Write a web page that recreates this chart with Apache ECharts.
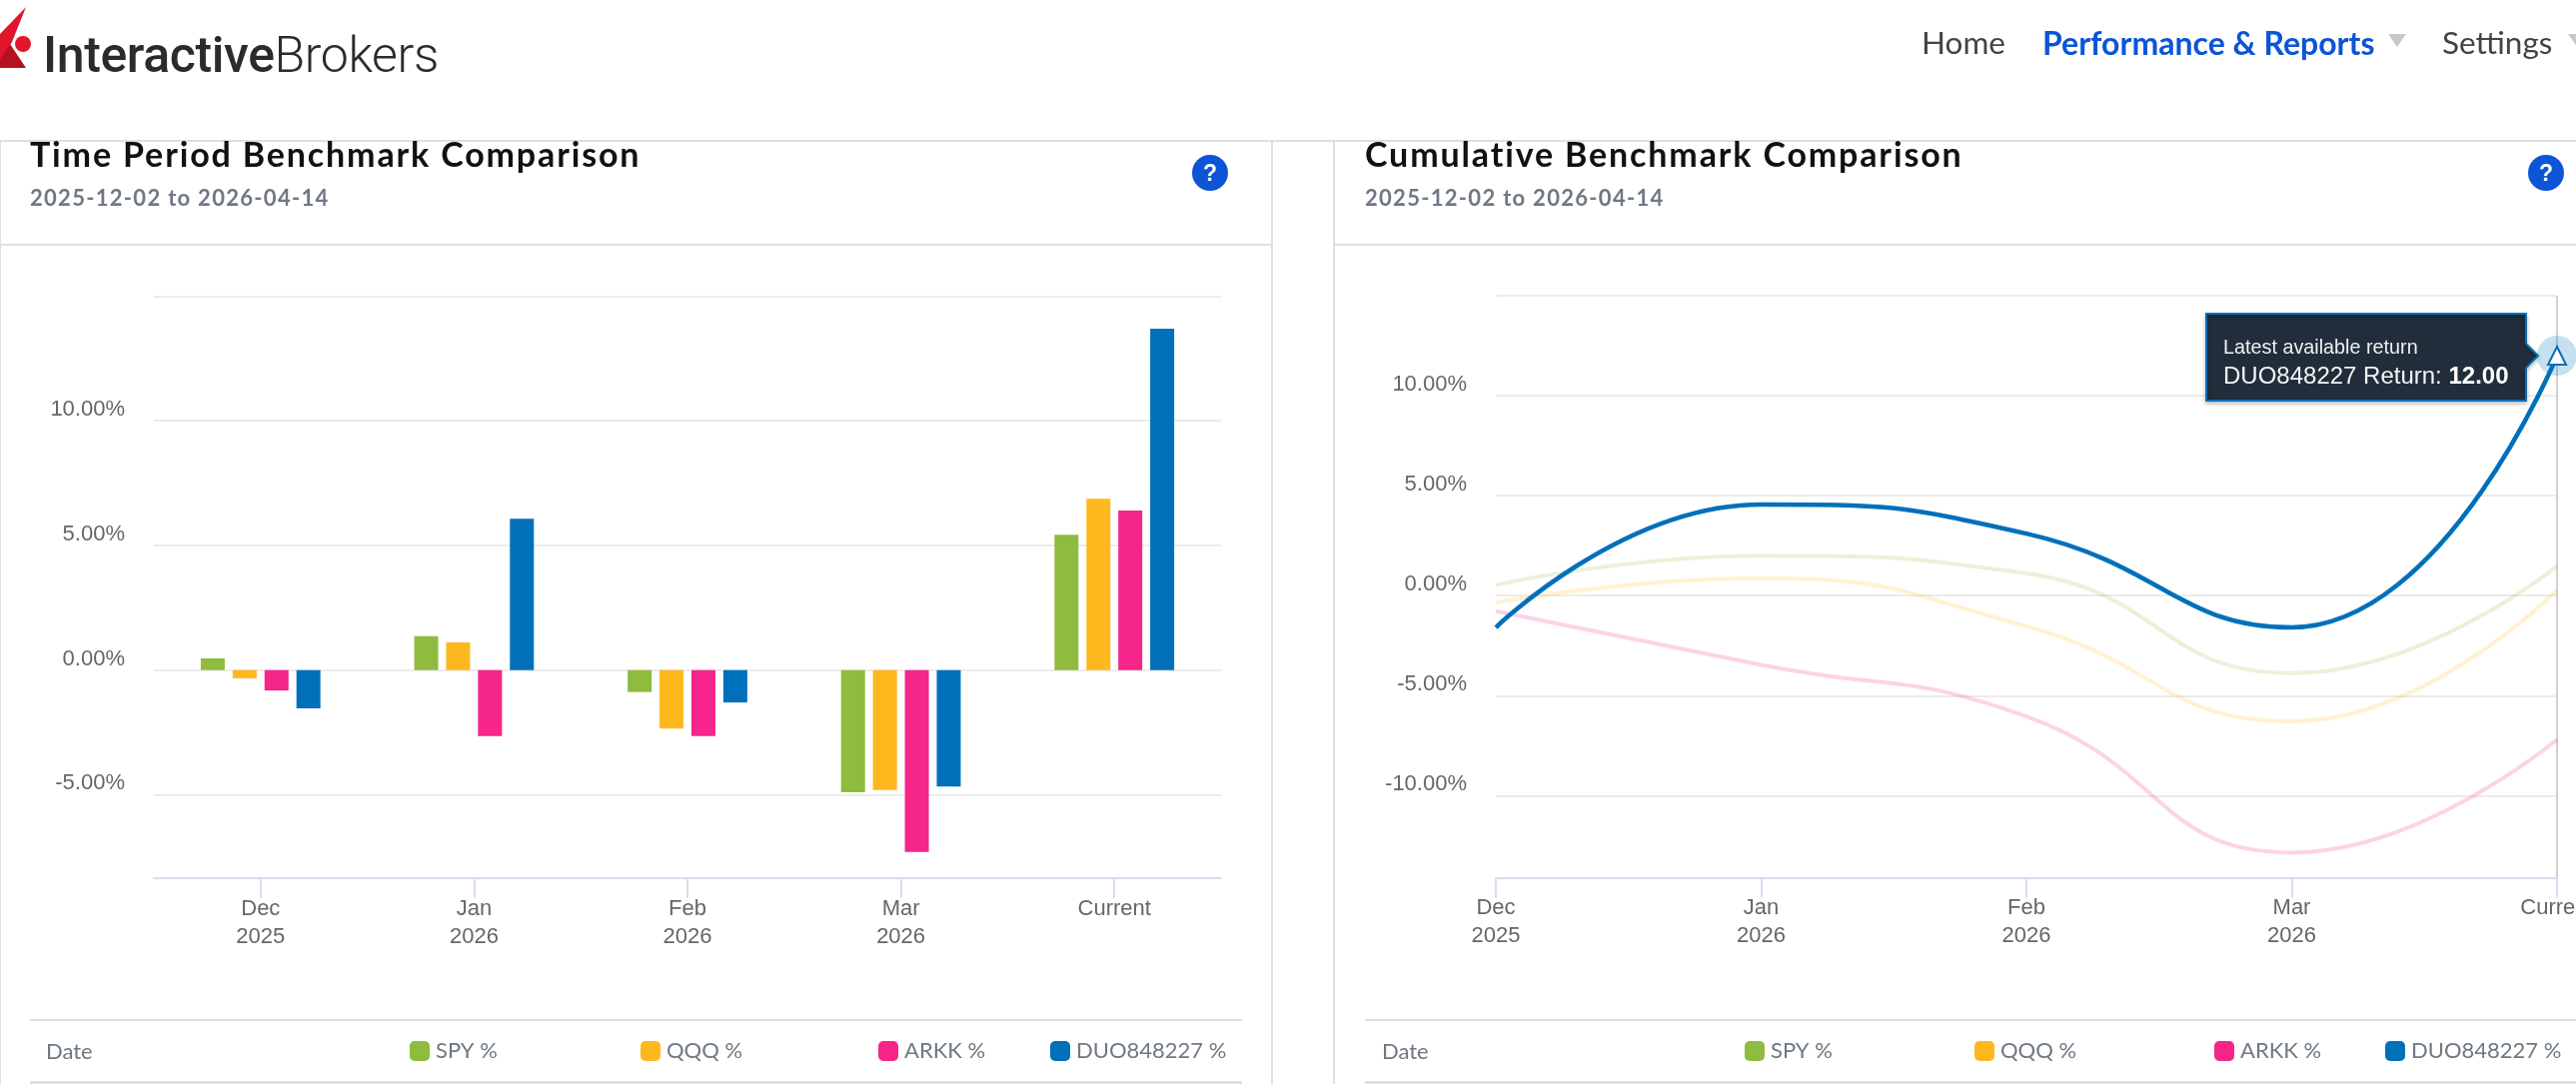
<!DOCTYPE html>
<html><head><meta charset="utf-8">
<script src="https://cdn.jsdelivr.net/npm/echarts@6/dist/echarts.min.js"></script>
<style>
html,body{margin:0;padding:0;background:#fff;overflow:hidden;width:2578px;height:1085px}
#c{position:absolute;left:0;top:0;width:2578px;height:1085px}
.t{position:absolute;white-space:nowrap;line-height:1}
.r{position:absolute;background:#dfdfdf}
.title{font:700 34px Lato;color:#111;letter-spacing:1.85px}
.sub{font:700 22px Lato;color:#6f7883;letter-spacing:1.3px}
.nav{font:400 31.5px Lato;color:#444}
.date{font:400 22px Lato;color:#6f7883}
.q{position:absolute;width:36px;height:36px;border-radius:50%;background:#0b55d6;color:#fff;font:700 23px/36px "Liberation Sans";text-align:center}
.tri{position:absolute;width:0;height:0;border-left:9px solid transparent;border-right:9px solid transparent;border-top:13px solid #c8c8c8}
</style></head><body>
<div id="c"></div>
<svg style="position:absolute;left:0;top:0" width="40" height="72">
<polygon points="26,7 0,34 0,62 12,42" fill="#e2152d"/><polygon points="0,68 26,68 10,44 0,60" fill="#b5121f"/><circle cx="23" cy="44" r="8" fill="#e2152d"/></svg>
<div class="t" style="left:43px;top:26px;font:500 50px Roboto;color:#2b2b2b;letter-spacing:-.4px">Interactive<span style="font-weight:300">Brokers</span></div>
<div class="t nav" style="left:1923px;top:23px">Home</div>
<div class="t nav" style="left:2044px;top:23px;color:#0b55d6;font-weight:700;font-size:32px">Performance &amp; Reports</div>
<div class="tri" style="left:2390px;top:34px"></div>
<div class="t nav" style="left:2444px;top:23px">Settings</div>
<div class="tri" style="left:2570px;top:34px"></div>
<div class="r" style="left:0;top:140px;width:2578px;height:2px"></div>
<div class="r" style="left:0;top:244px;width:1273px;height:2px"></div>
<div class="r" style="left:1334px;top:244px;width:1244px;height:2px"></div>
<div class="r" style="left:1272px;top:140px;width:2px;height:945px"></div>
<div class="r" style="left:1334px;top:140px;width:2px;height:945px"></div>
<div class="r" style="left:0;top:140px;width:1px;height:945px"></div>
<div class="r" style="left:30px;top:1020px;width:1213px;height:2px"></div>
<div class="r" style="left:30px;top:1082px;width:1213px;height:3px"></div>
<div class="r" style="left:1366px;top:1020px;width:1212px;height:2px"></div>
<div class="r" style="left:1366px;top:1082px;width:1212px;height:3px"></div>
<div class="t title" style="left:30px;top:133px">Time Period Benchmark Comparison</div>
<div class="t sub" style="left:30px;top:184px">2025-12-02 to 2026-04-14</div>
<div class="q" style="left:1193px;top:155px">?</div>
<div class="t title" style="left:1366px;top:133px">Cumulative Benchmark Comparison</div>
<div class="t sub" style="left:1366px;top:184px">2025-12-02 to 2026-04-14</div>
<div class="q" style="left:2530px;top:155px">?</div>
<div class="t date" style="left:46px;top:1038px">Date</div>
<div class="t date" style="left:1383px;top:1038px">Date</div>
<script>
var categories = ['Dec\n2025','Jan\n2026','Feb\n2026','Mar\n2026','Current'];
var seriesNames = ['SPY %','QQQ %','ARKK %','DUO848227 %'];
var colors = ['#8fbc3f','#fdb81e','#f5258a','#0070bb'];
var periodSPY  = [0.47, 1.36, -0.88, -4.90, 5.43];
var periodQQQ  = [-0.33, 1.11, -2.35, -4.81, 6.87];
var periodARKK = [-0.82, -2.65, -2.65, -7.30, 6.40];
var periodDUO  = [-1.54, 6.07, -1.30, -4.67, 13.70];
var cumSPY  = [0.53, 2.00, 1.12, -3.88, 1.48];
var cumQQQ  = [-0.36, 0.87, -1.53, -6.28, 0.28];
var cumARKK = [-0.78, -3.46, -6.04, -12.85, -7.20];
var cumDUO  = [-1.59, 4.56, 3.10, -1.59, 12.00];
var yTicks1 = [-5,0,5,10,15];
var yLabels1 = [-5,0,5,10];
var yTicks2 = [-10,-5,0,5,10,15];
var yLabels2 = [-10,-5,0,5,10];
var tipTitle = 'Latest available return';
var tipLabel = 'DUO848227 Return: ';

var labelFont = '"Liberation Sans"';
function xAxis(g, gap){
  return {type:'category',gridIndex:g,data:categories,boundaryGap:gap,
    axisLine:{onZero:false,lineStyle:{color:'#d5deef',width:2}},
    axisTick:{show:true,alignWithLabel:true,length:20,lineStyle:{color:'#d5deef',width:2}},
    axisLabel:{color:'#666',fontFamily:labelFont,fontSize:22,lineHeight:28,margin:17,interval:0,hideOverlap:false},
    splitLine:{show:false}};
}
function yAxis(g,min,max,ticks,labels){
  return {type:'value',gridIndex:g,min:min,max:max,
    axisLine:{show:false},
    axisTick:{show:false,customValues:ticks},
    axisLabel:{customValues:labels,color:'#666',fontFamily:labelFont,fontSize:22,margin:29,verticalAlign:'bottom',
      formatter:function(v){return v.toFixed(2)+'%';}},
    splitLine:{show:true,lineStyle:{color:'#ececec',width:2}}};
}
var period=[periodSPY,periodQQQ,periodARKK,periodDUO];
var cum=[cumSPY,cumQQQ,cumARKK,cumDUO];
var series=[];
seriesNames.forEach(function(n,i){
  series.push({type:'bar',name:n,xAxisIndex:0,yAxisIndex:0,data:period[i],barWidth:24,barGap:'33%',
    itemStyle:{color:colors[i]},silent:true});
});
seriesNames.forEach(function(n,i){
  var isDuo=i===3;
  var s={type:'line',name:n,xAxisIndex:1,yAxisIndex:1,smooth:0.5,silent:true,z:isDuo?4:2,
    lineStyle:{color:colors[i],width:isDuo?4.5:4,opacity:isDuo?1:0.2},
    symbol:'none',showSymbol:isDuo,showAllSymbol:isDuo,
    data:cum[i],clip:false};
  if(isDuo){
    s.data=cum[i].map(function(v,k){
      return k===cum[i].length-1
        ?{value:v,symbol:'triangle',symbolSize:18,itemStyle:{color:'#fff',borderColor:colors[i],borderWidth:2}}
        :{value:v,symbol:'none'};
    });
    s.markLine={silent:true,symbol:'none',label:{show:false},animation:false,z:1,
      lineStyle:{color:'#cfcfcf',width:2,type:'solid'},data:[{xAxis:categories[4]}]};
    s.markPoint={silent:true,animation:false,z:1,symbol:'circle',symbolSize:40,label:{show:false},
      itemStyle:{color:'rgba(0,112,187,0.22)'},
      data:[{coord:[categories[4],cumDUO[4]]}]};
  }
  series.push(s);
});
function lg(name,x){
  return {data:[name],left:x,top:1041,itemWidth:20,itemHeight:20,icon:'roundRect',selectedMode:false,
    itemGap:0,padding:0,itemStyle:{borderWidth:0},
    textStyle:{color:'#6f7883',fontFamily:'Lato',fontSize:22,padding:[0,0,0,1]}};
}
var chart=echarts.init(document.getElementById('c'),null,{renderer:'canvas'});
chart.setOption({
  animation:false,backgroundColor:'transparent',
  grid:[{left:154,top:296.5,width:1068,height:582,outerBoundsMode:'none'},
        {left:1497,top:296,width:1062,height:582.4,outerBoundsMode:'none'}],
  xAxis:[xAxis(0,true),xAxis(1,false)],
  yAxis:[yAxis(0,-8.33,15,yTicks1,yLabels1),yAxis(1,-14.1,15,yTicks2,yLabels2)],
  legend:[lg(seriesNames[0],410),lg(seriesNames[1],641),lg(seriesNames[2],879),lg(seriesNames[3],1051),
          lg(seriesNames[0],1746),lg(seriesNames[1],1976),lg(seriesNames[2],2216),lg(seriesNames[3],2387)],
  series:series
});
// callout anchored to the latest DUO point
var p=chart.convertToPixel({gridIndex:1},[categories[4],cumDUO[4]]);
var px=p[0],py=p[1];
chart.setOption({graphic:[{type:'group',x:px,y:py,z:100,children:[
  {type:'polygon',z:100,shape:{points:[[-351,-42],[-31,-42],[-31,-12],[-19,0],[-31,12],[-31,45],[-351,45]]},
   style:{fill:'#212d3b',stroke:'#0070bb',lineWidth:2,shadowColor:'rgba(0,0,0,0.25)',shadowBlur:4,shadowOffsetY:2}},
  {type:'text',z:101,x:-334,y:-8,style:{text:tipTitle,fill:'#f0f0f0',font:'19.8px "Liberation Sans"',verticalAlign:'middle'}},
  {type:'text',z:101,x:-334,y:21,style:{
    text:tipLabel+'{b|'+cumDUO[4].toFixed(2)+'}',verticalAlign:'middle',fill:'#f4f4f4',font:'24px "Liberation Sans"',
    rich:{b:{fontWeight:'bold',fontSize:24,fontFamily:'Liberation Sans',fill:'#fff',color:'#fff'}}}}
]}]});
</script>
</body></html>
